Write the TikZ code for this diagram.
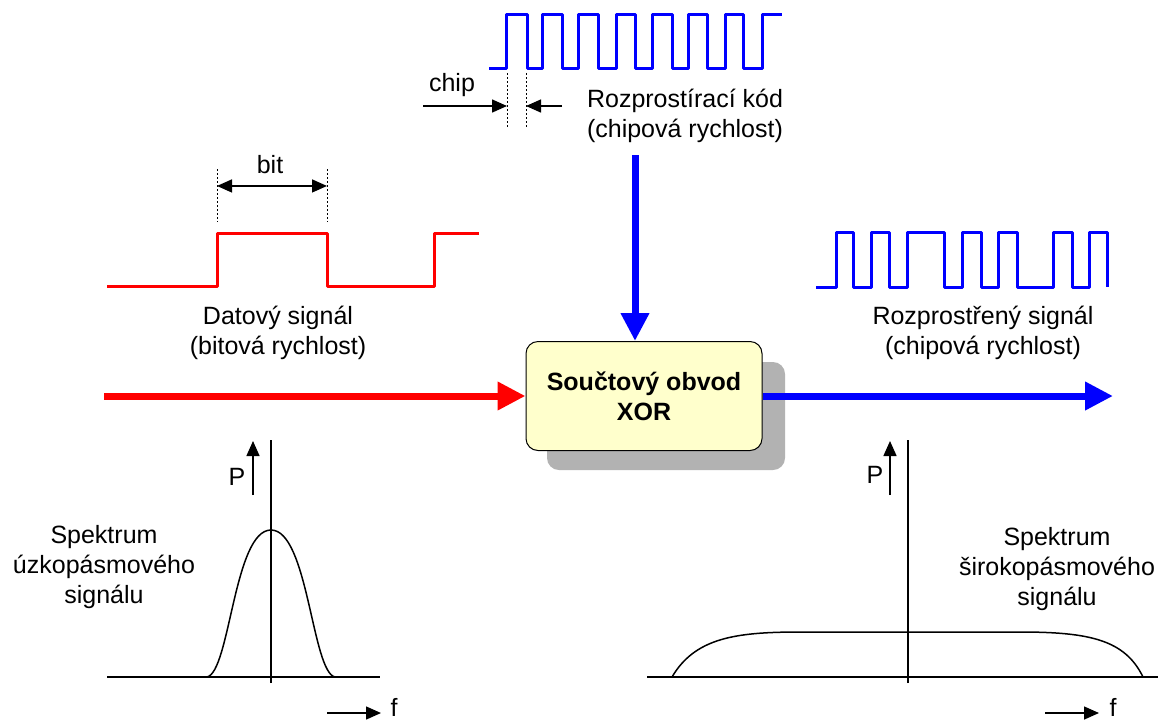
\documentclass[tikz,border=0pt]{standalone}
\usepackage{fontspec}
\setmainfont{Liberation Sans}
\usetikzlibrary{arrows.meta,calc}

\definecolor{xoryellow}{RGB}{255,255,204}
\definecolor{codeblue}{RGB}{0,0,255}

\tikzset{
  lbl/.style={font=\fontsize{25}{30}\selectfont, align=center, inner sep=0pt},
  fatarrow/.style={line width=7pt, -{Triangle[length=28pt,width=27pt]}},
  thinarrow/.style={line width=1.5pt, -{Triangle[length=15pt,width=13pt]}},
  twoarrow/.style={line width=1.5pt, {Triangle[length=15pt,width=13pt]}-{Triangle[length=15pt,width=13pt]}},
  wave/.style={line width=3pt, line join=round},
  guide/.style={line width=1pt, dash pattern=on 2pt off 2pt},
  axis/.style={line width=1.5pt},
}

\begin{document}
\begin{tikzpicture}[x=1pt,y=-1pt]
\useasboundingbox (0,0) rectangle (1172,721);

  %spreading code
  \draw[wave, codeblue] (489,68) -| (506,14) -| (527,68) -| (542,14) -| (562,68)
    -| (578,14) -| (598,68) -| (616,14) -| (635,68) -| (652,14) -| (672,68)
    -| (688,14) -| (707,68) -| (725,14) -| (743,68) -| (762,14) -- (782,14);
  \coordinate (chipA) at (507,73);
  \coordinate (chipB) at (526,73);
  \coordinate (chipAd) at (507,127);
  \coordinate (chipBd) at (526,127);
  \coordinate (chipL) at (423,106);
  \coordinate (chipR) at (562,106);
  \draw[guide] (chipA) -- (chipAd);
  \draw[guide] (chipB) -- (chipBd);
  \draw[thinarrow] (chipL) -- (chipL -| chipA);
  \draw[thinarrow] (chipR) -- (chipR -| chipB);
  \node[lbl] (chip) at (452,85) {chip};
  \node[lbl] (codetxt) at (685,116) {Rozprostírací kód\\(chipová rychlost)};

  %data signal
  \draw[wave, red] (107,286) -| (217,233) -| (327,286) -| (434,233) -- (479,233);
  \coordinate (bitA) at (217,169);
  \coordinate (bitB) at (327,169);
  \coordinate (bitAd) at (217,222);
  \coordinate (bitBd) at (327,222);
  \draw[guide] (bitA) -- (bitAd);
  \draw[guide] (bitB) -- (bitBd);
  \draw[twoarrow] ($(bitA)!0.32!(bitAd)$) -- ($(bitB)!0.32!(bitBd)$);
  \node[lbl] (bit) at (270,165) {bit};
  \node[lbl] (datatxt) at (278,333) {Datový signál\\(bitová rychlost)};

  %spread signal
  \draw[wave, codeblue] (816,287) -| (836,232) -| (853,287) -| (871,232) -| (889,287)
    -| (907,232) -| (944,287) -| (962,232) -| (981,287) -| (998,232) -| (1017,287)
    -| (1053,232) -| (1072,287) -| (1089,232) -| (1107,287);
  \node[lbl] (spreadtxt) at (983,333) {Rozprostřený signál\\(chipová rychlost)};

  %XOR
  \fill[black!30, rounded corners=12pt] (547,362) rectangle (785,470);
  \coordinate (datain) at (104,396);
  \coordinate (codein) at (635,155);
  \coordinate (spreadout) at (1113,396);
  \node[draw, line width=1pt, fill=xoryellow, rounded corners=12pt,
        minimum width=236pt, minimum height=109pt, align=center,
        font=\fontsize{25}{30}\selectfont\bfseries] (xor) at (644,396)
        {Součtový obvod\\XOR};
  \draw[fatarrow, red] (datain) -- (xor.west);
  \draw[fatarrow, codeblue] (codein) -- (codein |- xor.north);
  \draw[fatarrow, codeblue] (xor.east) -- (spreadout);

  %narrow spectrum
  \coordinate (nX0) at (107,677);
  \coordinate (nX1) at (380,677);
  \coordinate (nY0) at (271,683);
  \coordinate (nY1) at (271,440);
  \draw[axis] (nX0) -- (nX1);
  \draw[axis] (nY0) -- (nY1);
  \draw[axis] (207,677) .. controls (230,672) and (234,530) .. (271,530)
    .. controls (308,530) and (312,672) .. (335,677);
  \coordinate (nP0) at (253,495);
  \coordinate (nP1) at (253,441);
  \draw[thinarrow] (nP0) -- (nP1);
  \node[lbl] (nP) at (237,477) {P};
  \coordinate (nF0) at (327,713);
  \coordinate (nF1) at (381,713);
  \draw[thinarrow] (nF0) -- (nF1);
  \node[lbl] (nF) at (394,707) {f};
  \node[lbl] (narrowtxt) at (104,567) {Spektrum\\úzkopásmového\\signálu};

  %wide spectrum
  \coordinate (wX0) at (647,677);
  \coordinate (wX1) at (1158,677);
  \coordinate (wY0) at (908,683);
  \coordinate (wY1) at (908,440);
  \draw[axis] (wX0) -- (wX1);
  \draw[axis] (wY0) -- (wY1);
  \draw[axis] (672,677) .. controls (695,638) and (735,632) .. (800,632)
    -- (1020,632) .. controls (1090,632) and (1125,640) .. (1143,677);
  \coordinate (wP0) at (890,495);
  \coordinate (wP1) at (890,441);
  \draw[thinarrow] (wP0) -- (wP1);
  \node[lbl] (wP) at (875,475) {P};
  \coordinate (wF0) at (1045,713);
  \coordinate (wF1) at (1099,713);
  \draw[thinarrow] (wF0) -- (wF1);
  \node[lbl] (wF) at (1113,707) {f};
  \node[lbl] (widetxt) at (1057,569) {Spektrum\\širokopásmového\\signálu};
\end{tikzpicture}
\end{document}
